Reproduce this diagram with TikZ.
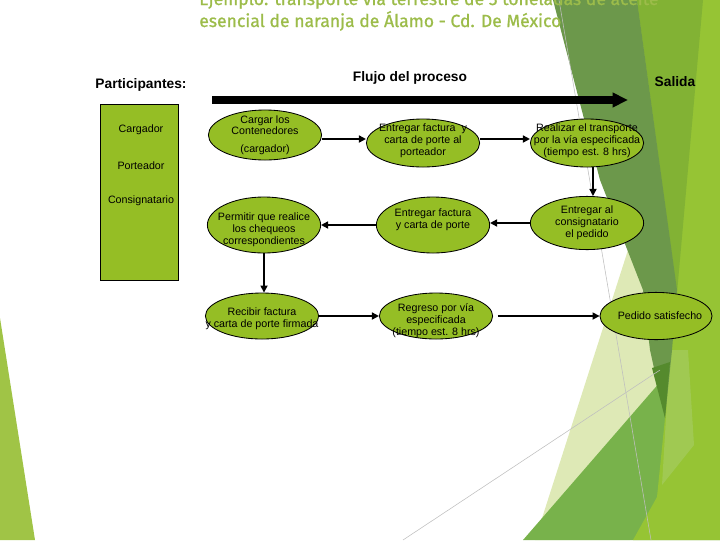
\documentclass[tikz,border=0pt]{standalone}
\usepackage{fontspec}
\setmainfont{Liberation Sans}
\newfontfamily\titulofont[FakeBold=1]{Fira Sans}
\usetikzlibrary{shapes.geometric,arrows.meta}

\definecolor{verdetitulo}{RGB}{156,188,74}
\definecolor{verdeelipse}{RGB}{149,190,37}
\definecolor{verdeoscuro}{RGB}{108,152,75}
\definecolor{verdemedio}{RGB}{130,178,52}
\definecolor{verdeclaro}{RGB}{150,196,52}
\definecolor{verdepalido}{RGB}{222,233,182}
\definecolor{verdebajo}{RGB}{120,178,75}
\definecolor{franja}{RGB}{160,201,82}
\definecolor{puntaoscura}{RGB}{85,138,45}
\definecolor{verdeizq}{RGB}{160,196,70}

\begin{document}
\begin{tikzpicture}[x=0.025cm, y=-0.025cm,
  proceso/.style={ellipse, draw=black, line width=0.6pt, fill=verdeelipse, minimum width=2.83cm, inner sep=0pt},
  txt/.style={align=center, font=\fontsize{7.6}{8.5}\selectfont},
  flecha/.style={-{Triangle[length=5pt,width=5pt]}, line width=1.1pt},
  encabezado/.style={font=\fontsize{9.8}{12}\selectfont\bfseries},
  titulo/.style={anchor=base west, inner sep=0pt, text=verdetitulo, font=\titulofont\fontsize{12.5}{15}\selectfont}]
  \useasboundingbox (0,0) rectangle (720,540);
  \clip (0,0) rectangle (720,540);
  % fondo
  \fill[verdepalido] (628,250) -- (643,250) -- (665,420) -- (630,540) -- (535,540) -- cycle;
  \fill[verdebajo] (523,540) -- (720,313) -- (720,540) -- cycle;
  \fill[verdeclaro] (637,0) -- (720,0) -- (720,540) -- (633,540) -- (657,497) -- (665,418) -- cycle;
  \fill[verdemedio] (637,0) -- (703,0) -- (677,293) -- cycle;
  \fill[franja] (670,350) -- (688,350) -- (694,445) -- (662,485) -- cycle;
  \fill[verdeoscuro] (553,0) -- (637,0) -- (677,290) -- (672,350) -- (665,418) -- (650,350) -- (643,290) -- (600,180) -- cycle;
  \fill[puntaoscura] (652,368) -- (670,362) -- (665,418) -- cycle;
  \fill[verdeizq] (0,318) -- (0,540) -- (35,540) -- cycle;
  \draw[gray!50, line width=0.4pt] (559,0) -- (651,540);
  \draw[gray!50, line width=0.4pt] (403,540) -- (660,370);

  \node[titulo] (titulo1) at (199,5) {Ejemplo: transporte vía terrestre de 5 toneladas de aceite};
  \node[titulo] (titulo2) at (199,27) {esencial de naranja de Álamo - Cd. De México};

  \node[encabezado] (participantes) at (141,85) {Participantes:};
  \node[encabezado] (flujo) at (410,78) {Flujo del proceso};
  \node[encabezado] (salida) at (675,82) {Salida};
  \coordinate (flujoini) at (212,100);
  \coordinate (flujofin) at (628,100);
  \draw[line width=5pt, -{Triangle[length=11pt,width=10pt]}] (flujoini) -- (flujofin);

  \node[draw=black, line width=0.8pt, fill=verdeelipse, minimum width=1.93cm, minimum height=4.38cm] (caja) at (139.5,192.5) {};
  \node[txt] (cargador) at (141,130) {Cargador};
  \node[txt] (porteador) at (141,166) {Porteador};
  \node[txt] (consignatario) at (141,201) {Consignatario};

  \node[proceso, minimum height=1.25cm, label={[txt]center:Cargar los\\Contenedores\\[4pt](cargador)}] (e1) at (265,135) {};
  \node[proceso, minimum height=1.2cm, label={[txt, yshift=0.05cm]center:Entregar factura \ y\\carta de porte al\\porteador}] (e2) at (423,143) {};
  \node[proceso, minimum height=1.2cm, label={[txt, yshift=0.05cm]center:Realizar el transporte\\por la vía especificada\\(tiempo est. 8 hrs)}] (e3) at (587,143) {};
  \node[proceso, minimum height=1.4cm, label={[txt, yshift=-0.11cm]center:Permitir que realice\\los chequeos\\correspondientes}] (e4) at (264,225) {};
  \node[proceso, minimum height=1.4cm, label={[txt, yshift=0.12cm]center:Entregar factura\\y carta de porte}] (e5) at (433,225) {};
  \node[proceso, minimum height=1.33cm, label={[txt]center:Entregar al\\consignatario\\el pedido}] (e6) at (587,223) {};
  \node[proceso, minimum height=1.15cm, label={[txt, yshift=-0.07cm]center:Recibir factura\\y carta de porte firmada}] (e7) at (262,316) {};
  \node[proceso, minimum height=1.15cm, label={[txt, yshift=-0.12cm]center:Regreso por vía\\especificada\\(tiempo est. 8 hrs)}] (e8) at (436,316) {};
  \node[proceso, minimum width=2.8cm, minimum height=1.18cm, label={[txt, xshift=0.1cm]center:Pedido satisfecho}] (e9) at (656,316) {};

  \draw[flecha] ([yshift=-0.1cm]e1.east) -- ([yshift=-0.1cm]e1.east -| e2.west);
  \draw[flecha] ([yshift=0.1cm]e2.east) -- ([yshift=0.1cm]e2.east -| e3.west);
  \draw[flecha] ([xshift=0.15cm]e3.south) -- ([xshift=0.15cm]e3.south |- e6.north);
  \draw[flecha] (e6.west) -- (e6.west -| e5.east);
  \draw[flecha] (e5.west) -- (e5.west -| e4.east);
  \draw[flecha] (e4.south) -- (e4.south |- e7.north);
  \draw[flecha] (e7.east) -- (e7.east -| e8.west);
  \draw[flecha] ([xshift=0.12cm]e8.east) -- (e8.east -| e9.west);
\end{tikzpicture}
\end{document}
